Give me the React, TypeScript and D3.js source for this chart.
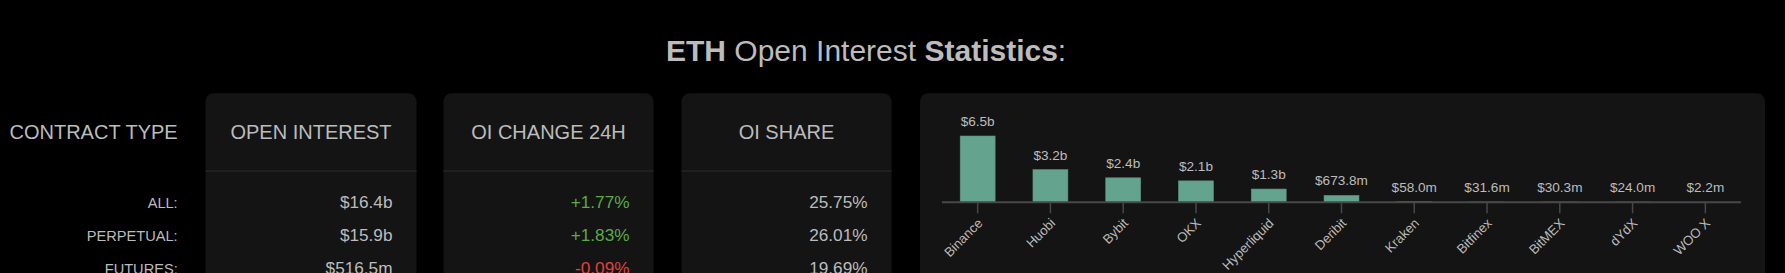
import React, { useEffect } from "react";
import * as d3 from "d3";

// ---- Data ----
const exchanges = ["Binance", "Huobi", "Bybit", "OKX", "Hyperliquid", "Deribit", "Kraken", "Bitfinex", "BitMEX", "dYdX", "WOO X"];
const oiValues = [6.5e9, 3.2e9, 2.4e9, 2.1e9, 1.3e9, 673.8e6, 58.0e6, 31.6e6, 30.3e6, 24.0e6, 2.2e6];

const contractTypes = ["ALL:", "PERPETUAL:", "FUTURES:"];
const openInterest = ["$16.4b", "$15.9b", "$516.5m"];
const oiChange = [1.77, 1.83, -0.09];
const oiShare = [25.75, 26.01, 19.69];

const headers = ["OPEN INTEREST", "OI CHANGE 24H", "OI SHARE"];

// ---- Layout / style ----
const W = 1785;
const H = 273;
const FONT = "'Liberation Sans', Arial, Helvetica, sans-serif";
const CARD_BG = "#141414";
const TEXT = "#bcbcbc";
const GREEN = "#5bab45";
const RED = "#e2413b";
const BAR = "#64a38e";

const fmtMoney = (v: number) =>
  v >= 1e9 ? `$${(v / 1e9).toFixed(1)}b` : `$${(v / 1e6).toFixed(1)}m`;
const fmtChange = (v: number) => `${v >= 0 ? "+" : ""}${v.toFixed(2)}%`;
const fmtShare = (v: number) => `${v.toFixed(2)}%`;

const cards = [
  { x0: 205.5, x1: 416.5 },
  { x0: 443.5, x1: 653.5 },
  { x0: 681.5, x1: 891.5 },
];
const chartCard = { x0: 920, x1: 1765 };
const cardTop = 93.3;
const headerBase = 139.3;
const sepY = 171;
const rowBase0 = 208.3;
const rowStep = 32.8;

export default function App() {
  useEffect(() => {
    document.body.style.margin = "0";
    document.body.style.background = "#000";
  }, []);

  const x = d3
    .scaleBand<string>()
    .domain(exchanges)
    .range([942, 1741])
    .paddingInner(0.52)
    .paddingOuter(0.25);
  const axisY = 202.3;
  const y = d3
    .scaleLinear()
    .domain([0, d3.max(oiValues) as number])
    .range([axisY, 136]);

  const columns: { text: string; color: string }[][] = [
    openInterest.map((t) => ({ text: t, color: TEXT })),
    oiChange.map((v) => ({ text: fmtChange(v), color: v >= 0 ? GREEN : RED })),
    oiShare.map((v) => ({ text: fmtShare(v), color: TEXT })),
  ];

  return (
    <svg width={W} height={H} style={{ display: "block", background: "#000" }} fontFamily={FONT}>
      <rect x={0} y={0} width={W} height={H} fill="#000" />
      {/* Title */}
      <text x={666} y={60.7} fontSize={30} fill={TEXT}>
        <tspan fontWeight="bold">ETH</tspan>
        <tspan> Open Interest </tspan>
        <tspan fontWeight="bold">Statistics</tspan>
        <tspan>:</tspan>
      </text>

      {/* Left labels */}
      <text x={177.7} y={headerBase} fontSize={20} fill={TEXT} textAnchor="end">
        CONTRACT TYPE
      </text>
      {contractTypes.map((c, i) => (
        <text key={c} x={177.7} y={rowBase0 + i * rowStep} fontSize={14.6} fill={TEXT} textAnchor="end">
          {c}
        </text>
      ))}

      {/* Table cards */}
      {cards.map((c, ci) => (
        <g key={ci}>
          <rect x={c.x0} y={cardTop} width={c.x1 - c.x0} height={H} rx={8} fill={CARD_BG} />
          <line x1={c.x0} x2={c.x1} y1={sepY} y2={sepY} stroke="#202020" strokeWidth={2} />
          <text x={(c.x0 + c.x1) / 2} y={headerBase} fontSize={20} fill={TEXT} textAnchor="middle">
            {headers[ci]}
          </text>
          {columns[ci].map((cell, ri) => (
            <text
              key={ri}
              x={c.x1 - 24}
              y={rowBase0 + ri * rowStep}
              fontSize={17.2}
              fill={cell.color}
              textAnchor="end"
            >
              {cell.text}
            </text>
          ))}
        </g>
      ))}

      {/* Chart card */}
      <rect x={chartCard.x0} y={cardTop} width={chartCard.x1 - chartCard.x0} height={H} rx={8} fill={CARD_BG} />
      {exchanges.map((e, i) => {
        const v = oiValues[i];
        const bx = x(e) as number;
        const top = y(v);
        return (
          <g key={e}>
            <rect
              x={bx}
              y={top}
              width={x.bandwidth()}
              height={axisY - top}
              fill={BAR}
              stroke="#5a9482"
              strokeWidth={0.6}
            />
            <text
              x={bx + x.bandwidth() / 2}
              y={top - 10}
              fontSize={13.6}
              fill={TEXT}
              textAnchor="middle"
            >
              {fmtMoney(v)}
            </text>
          </g>
        );
      })}
      {/* X axis */}
      <g transform={`translate(0,${axisY})`}>
        <path d={`M${x.range()[0]},0H${x.range()[1]}`} stroke="#484848" strokeWidth={2} fill="none" />
        {exchanges.map((e) => {
          const cx = (x(e) as number) + x.bandwidth() / 2;
          return (
            <g key={e} transform={`translate(${cx},0)`}>
              <line y1={0} y2={11} stroke="#484848" strokeWidth={1.5} />
              <text
                y={10}
                dy="0.71em"
                fontSize={13.2}
                fill="#bababa"
                textAnchor="end"
                transform="translate(-8,8) rotate(-45)"
              >
                {e}
              </text>
            </g>
          );
        })}
      </g>
    </svg>
  );
}
